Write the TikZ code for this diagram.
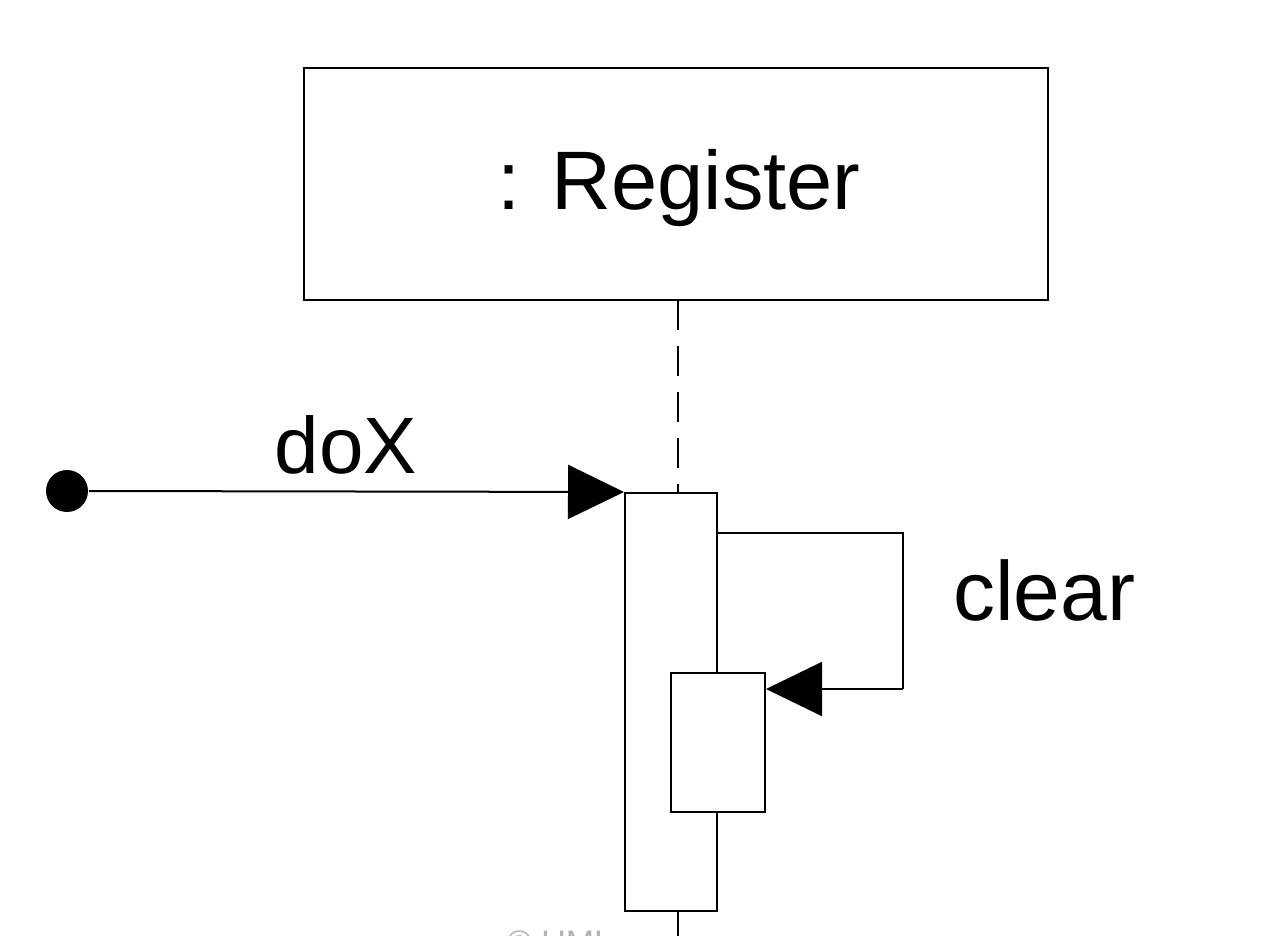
\documentclass[tikz,border=0pt]{standalone}
\usepackage{fontspec}
\setmainfont{Liberation Sans}
\usetikzlibrary{arrows.meta}
\begin{document}
\begin{tikzpicture}[x=1pt,y=-1pt,
  line width=2pt,
  objbox/.style={draw,fill=white,line width=2pt},
  activation/.style={draw,fill=white,line width=2pt},
  msg/.style={-{Triangle[length=56pt,width=54pt]}},
  lifeline/.style={dash pattern=on 30pt off 16pt},
  label/.style={font=\fontsize{80}{92}\selectfont, inner sep=0pt}
]
\useasboundingbox (0,0) rectangle (1286,936);
\clip (0,0) rectangle (1286,936);

% watermark, cut by the lower edge
\node[text=gray!60, font=\fontsize{34}{40}\selectfont, anchor=north] (wm) at (560,926) {© UML};

% object box
\draw[objbox] (304,68) rectangle (1048,300);
\node[label, font=\fontsize{83}{96}\selectfont, anchor=base] (reg) at (679,210) {: Register};
\coordinate (regb) at (678,300);

% lifeline
\draw[lifeline] (regb) -- (678,492);
\draw (678,910) -- (678,936);

% activation bars
\node[activation, minimum width=92pt, minimum height=418pt, inner sep=0pt, anchor=north west] (act) at (624,492) {};
\draw (716,533) -- (903,533) -- (903,689);
\node[activation, minimum width=94pt, minimum height=139pt, inner sep=0pt, anchor=north west] (sub) at (670,672) {};

% found message doX
\fill (67,491) circle (21) coordinate (start);
\node[circle, inner sep=0pt, minimum size=42pt] (dot) at (67,491) {};
\draw[msg] (dot.east) -- (act.north west);
\node[label, anchor=base] (dox) at (346,473) {doX};

% self message clear
\coordinate (selfc) at (903,689);
\draw[msg] (selfc) -- (sub.east |- selfc);
\node[label, font=\fontsize{84}{96}\selectfont, anchor=base west] (clr) at (952,620) {clear};
\end{tikzpicture}
\end{document}
